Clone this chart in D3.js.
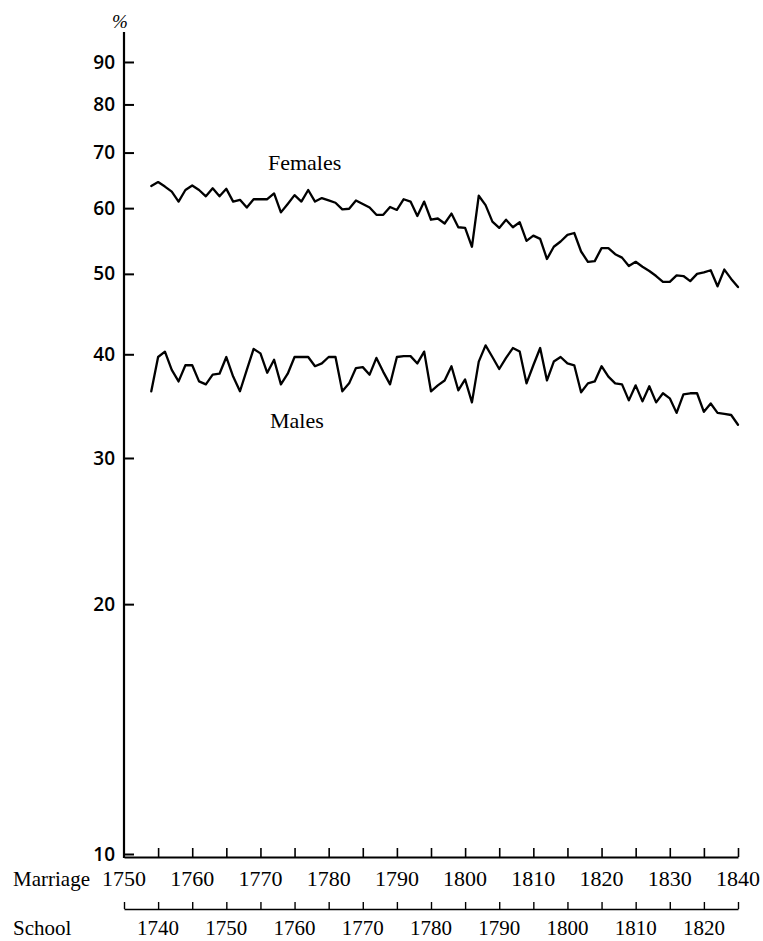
<!DOCTYPE html>
<html>
<head>
<meta charset="utf-8">
<script src="https://cdn.jsdelivr.net/npm/d3@7"></script>
<style>
  body { margin: 0; background: #fff; }
  svg { display: block; }
  .serif { font-family: "Liberation Serif", "Times New Roman", serif; }
  .sans { font-family: "Open Sans", "Liberation Sans", Arial, sans-serif; }
</style>
</head>
<body>
<svg id="chart" width="763" height="941"></svg>
<script>
// ---------------- data ----------------
const years = [
  1754,1755,1756,1757,1758,1759,1760,1761,1762,1763,1764,1765,1766,1767,1768,1769,
  1770,1771,1772,1773,1774,1775,1776,1777,1778,1779,1780,1781,1782,1783,1784,1785,
  1786,1787,1788,1789,1790,1791,1792,1793,1794,1795,1796,1797,1798,1799,1800,1801,
  1802,1803,1804,1805,1806,1807,1808,1809,1810,1811,1812,1813,1814,1815,1816,1817,
  1818,1819,1820,1821,1822,1823,1824,1825,1826,1827,1828,1829,1830,1831,1832,1833,
  1834,1835,1836,1837,1838,1839,1840
];
const females = [
  63.8,64.5,63.7,62.8,61.1,63.1,63.9,63.1,62.0,63.4,62.0,63.3,61.1,61.4,60.1,61.5,
  61.5,61.5,62.5,59.3,60.7,62.2,61.1,63.1,61.1,61.7,61.3,60.9,59.8,59.9,61.3,60.7,
  60.1,58.9,58.9,60.2,59.7,61.5,61.1,58.7,61.1,58.1,58.3,57.5,59.1,56.9,56.8,53.9,
  62.1,60.5,57.8,56.8,58.1,56.9,57.7,54.8,55.6,55.1,52.1,53.9,54.7,55.7,56.0,53.2,
  51.7,51.8,53.7,53.7,52.8,52.3,51.1,51.7,51.0,50.4,49.7,48.9,48.9,49.8,49.7,49.0,
  50.0,50.2,50.5,48.3,50.6,49.3,48.2
];
const males = [
  36.1,39.7,40.3,38.3,37.1,38.8,38.8,37.1,36.8,37.8,37.9,39.7,37.6,36.1,38.3,40.6,
  40.1,38.0,39.4,36.8,37.9,39.7,39.7,39.7,38.7,39.0,39.7,39.7,36.1,36.9,38.5,38.6,
  37.8,39.6,38.1,36.8,39.7,39.8,39.8,39.0,40.3,36.1,36.7,37.2,38.7,36.2,37.3,35.0,
  39.2,41.0,39.7,38.4,39.6,40.7,40.3,36.9,38.8,40.7,37.2,39.2,39.7,39.0,38.8,36.0,
  36.9,37.1,38.7,37.6,36.9,36.8,35.2,36.7,35.1,36.6,35.0,35.9,35.4,34.0,35.8,35.9,
  35.9,34.1,34.9,34.0,33.9,33.8,32.9
];
const yTicks = [10, 20, 30, 40, 50, 60, 70, 80, 90];
const marriageLabels = [1750,1760,1770,1780,1790,1800,1810,1820,1830,1840];
const marriageTicks = [1755,1760,1765,1770,1775,1780,1785,1790,1795,1800,1805,1810,1815,1820,1825,1830,1835,1840];
const schoolLabels = [1740,1750,1760,1770,1780,1790,1800,1810,1820];
const schoolTicks = [1735,1740,1745,1750,1755,1760,1765,1770,1775,1780,1785,1790,1795,1800,1805,1810,1815,1820,1825];
const seriesNames = ["Females", "Males"];

// ---------------- layout ----------------
const svg = d3.select("#chart");
const x = d3.scaleLinear().domain([1750, 1840]).range([124, 738]);
const xSchool = d3.scaleLinear().domain([1735, 1825]).range([124, 738]);
const y = d3.scaleLog().domain([10, 100]).range([854, 24]);

svg.append("rect").attr("width", 763).attr("height", 941).attr("fill", "#fff");

// ---------------- y axis ----------------
const yAxis = d3.axisLeft(y).tickValues(yTicks).tickSize(-10).tickSizeOuter(0)
  .tickPadding(9).tickFormat(d3.format("d"));
const gy = svg.append("g").attr("transform", "translate(124,0)").call(yAxis);
gy.attr("font-family", null).attr("font-size", null);
gy.select(".domain").remove();
gy.selectAll(".tick line").attr("stroke", "#000").attr("stroke-width", 2);
gy.selectAll(".tick text").attr("class", "sans")
  .style("font-size", "19px").style("font-weight", "600").attr("fill", "#000");
gy.append("line").attr("x1", 0).attr("x2", 0).attr("y1", 32).attr("y2", 858)
  .attr("stroke", "#000").attr("stroke-width", 2.2);
svg.append("text").attr("class", "serif").attr("x", 120).attr("y", 28).attr("text-anchor", "middle")
  .style("font-style", "italic").style("font-size", "19px").text("%");

// ---------------- marriage axis ----------------
const xAxis = d3.axisBottom(x).tickValues(marriageTicks).tickSize(-9).tickSizeOuter(0).tickFormat("");
const gx = svg.append("g").attr("transform", "translate(0,857)").call(xAxis);
gx.select(".domain").attr("stroke", "#000").attr("stroke-width", 2.2);
gx.selectAll(".tick line").attr("stroke", "#000").attr("stroke-width", 1.6);
svg.append("g").selectAll("text").data(marriageLabels).join("text")
  .attr("class", "serif")
  .attr("x", d => x(d)).attr("y", 886).attr("text-anchor", "middle")
  .style("font-size", "22px").text(d => d);
svg.append("text").attr("class", "serif").attr("x", 13).attr("y", 886)
  .style("font-size", "21px").text("Marriage");

// ---------------- school axis ----------------
const sAxis = d3.axisBottom(xSchool).tickValues(schoolTicks).tickSize(-7).tickSizeOuter(0).tickFormat("");
const gs = svg.append("g").attr("transform", "translate(0,909)").call(sAxis);
gs.select(".domain").attr("stroke", "#000").attr("stroke-width", 1.4);
gs.selectAll(".tick line").attr("stroke", "#000").attr("stroke-width", 1.4);
svg.append("g").selectAll("text").data(schoolLabels).join("text")
  .attr("class", "serif")
  .attr("x", d => xSchool(d)).attr("y", 935).attr("text-anchor", "middle")
  .style("font-size", "21px").text(d => d);
svg.append("text").attr("class", "serif").attr("x", 13).attr("y", 935)
  .style("font-size", "21px").text("School");

// ---------------- lines ----------------
const line = d3.line().x((d, i) => x(years[i])).y(d => y(d));
[females, males].forEach(series => {
  svg.append("path").datum(series).attr("d", line)
    .attr("fill", "none").attr("stroke", "#000").attr("stroke-width", 2.3)
    .attr("stroke-linejoin", "round").attr("stroke-linecap", "round");
});

// ---------------- series labels ----------------
svg.append("text").attr("class", "serif").attr("x", x(1771.1)).attr("y", y(66.7))
  .style("font-size", "22px").text(seriesNames[0]);
svg.append("text").attr("class", "serif").attr("x", x(1771.4)).attr("y", y(32.6))
  .style("font-size", "22px").text(seriesNames[1]);
</script>
</body>
</html>
